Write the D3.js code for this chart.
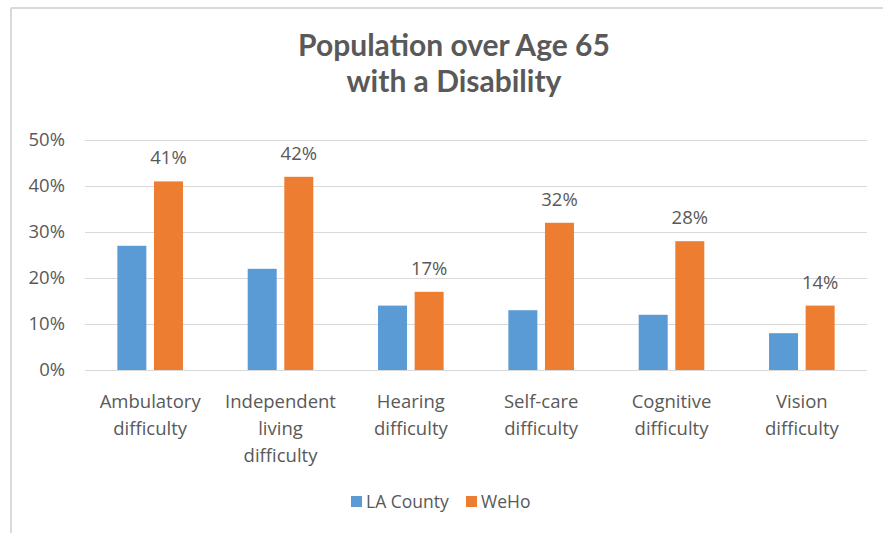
<!DOCTYPE html>
<html>
<head>
<meta charset="utf-8">
<script src="https://cdn.jsdelivr.net/npm/d3@7"></script>
<style>
  html, body { margin: 0; padding: 0; background: #fff; }
  svg { display: block; font-family: "Open Sans", "Noto Sans", sans-serif; }
</style>
</head>
<body>
<svg id="chart" width="883" height="533"></svg>
<script>
const title = ["Population over Age 65", "with a Disability"];
const categories = ["Ambulatory difficulty", "Independent living difficulty", "Hearing difficulty",
                    "Self-care difficulty", "Cognitive difficulty", "Vision difficulty"];
const seriesNames = ["LA County", "WeHo"];
const laCounty = [0.27, 0.22, 0.14, 0.13, 0.12, 0.08];
const weho = [0.41, 0.42, 0.17, 0.32, 0.28, 0.14];
const yTicks = [0, 0.1, 0.2, 0.3, 0.4, 0.5];
const colors = ["#5B9BD5", "#ED7D31"];

const values = [laCounty, weho];
const svg = d3.select("#chart");
const textColor = "#595959";

// chart border (top & left visible)
svg.append("line").attr("x1", 11).attr("x2", 883).attr("y1", 8).attr("y2", 8)
  .attr("stroke", "#d9d9d9").attr("stroke-width", 2);
svg.append("line").attr("x1", 11).attr("x2", 11).attr("y1", 8).attr("y2", 533)
  .attr("stroke", "#d9d9d9").attr("stroke-width", 2);

// title (two separate lines)
svg.append("g").selectAll("text").data(title).join("text")
  .attr("x", 454).attr("y", (d, i) => 56 + i * 36)
  .attr("text-anchor", "middle").attr("font-family", "Lato")
  .attr("font-weight", "bold").attr("font-size", 30).attr("fill", textColor)
  .text(d => d);

const x = d3.scaleBand().domain(categories).range([85, 867]).paddingInner(0).paddingOuter(0);
const xs = d3.scaleBand().domain(seriesNames).range([0, x.bandwidth()]).paddingInner(0.208).paddingOuter(0.884);
const y = d3.scaleLinear().domain([0, 0.5]).range([370, 140]);

// gridlines
svg.append("g").selectAll("line").data(yTicks).join("line")
  .attr("x1", 85).attr("x2", 867)
  .attr("y1", d => Math.round(y(d)) + 0.5).attr("y2", d => Math.round(y(d)) + 0.5)
  .attr("stroke", "#d9d9d9").attr("stroke-width", 1);

// y axis labels
const yAxis = d3.axisLeft(y).tickValues(yTicks).tickFormat(d3.format(".0%")).tickSize(0).tickPadding(20);
const yg = svg.append("g").attr("transform", "translate(85,0)").call(yAxis);
yg.select(".domain").remove();
yg.selectAll("text").attr("font-size", 18.5).attr("fill", textColor).attr("font-family", "Open Sans");

// bars
const groups = svg.append("g").selectAll("g").data(categories).join("g")
  .attr("transform", d => `translate(${x(d)},0)`);
groups.selectAll("rect").data((c, i) => seriesNames.map((s, j) => ({ s, j, v: values[j][i] })))
  .join("rect")
  .attr("x", d => xs(d.s)).attr("width", xs.bandwidth())
  .attr("y", d => y(d.v)).attr("height", d => y(0) - y(d.v))
  .attr("fill", d => colors[d.j]);

// data labels (WeHo only)
groups.append("text")
  .attr("x", xs("WeHo") + xs.bandwidth() / 2)
  .attr("y", (c, i) => y(weho[i]) - 17)
  .attr("text-anchor", "middle").attr("font-size", 18.5).attr("fill", textColor)
  .text((c, i) => d3.format(".0%")(weho[i]));

// category labels with wrapping
const xAxis = d3.axisBottom(x).tickSize(0).tickPadding(0);
const xg = svg.append("g").attr("transform", "translate(0,370)").call(xAxis);
xg.select(".domain").remove();
xg.selectAll("text").each(function(d) {
  const t = d3.select(this);
  t.text(null).attr("font-size", 18.5).attr("fill", textColor).attr("font-family", "Open Sans").attr("dy", null).attr("y", 0);
  const words = d.split(" ");
  const lines = [];
  let cur = [];
  const tmp = t.append("tspan");
  for (const w of words) {
    const test = cur.concat([w]).join(" ");
    tmp.text(test);
    if (tmp.node().getComputedTextLength() > 110 && cur.length) {
      lines.push(cur.join(" "));
      cur = [w];
    } else cur.push(w);
  }
  lines.push(cur.join(" "));
  tmp.remove();
  lines.forEach((l, i) => t.append("tspan").attr("x", 0).attr("y", 37.5 + i * 27).text(l));
});

// legend
const legendItems = [{ name: "LA County", x: 351 }, { name: "WeHo", x: 466 }];
const lg = svg.append("g").selectAll("g").data(seriesNames).join("g")
  .attr("transform", (d, i) => `translate(${legendItems[i].x},0)`);
lg.append("rect").attr("x", 0).attr("y", 496).attr("width", 11).attr("height", 11)
  .attr("fill", (d, i) => colors[i]);
lg.append("text").attr("x", 15).attr("y", 508).attr("font-size", 17.5).attr("fill", textColor).text(d => d);
</script>
</body>
</html>
